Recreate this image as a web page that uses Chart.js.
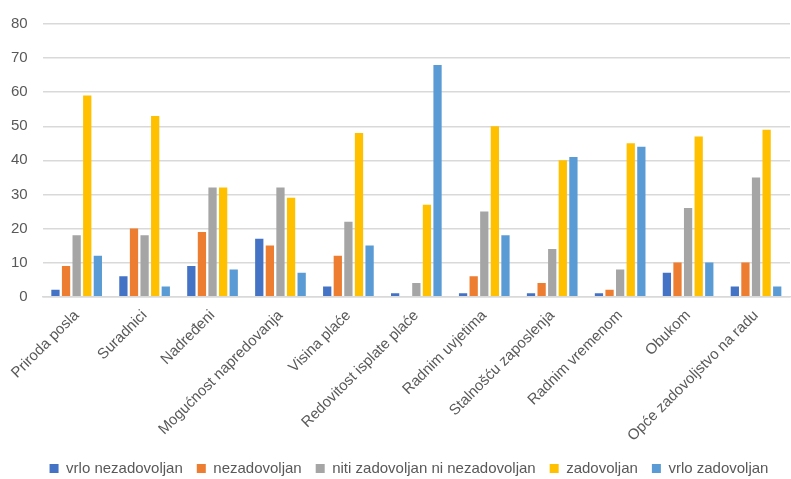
<!DOCTYPE html>
<html>
<head>
<meta charset="utf-8">
<script src="https://cdn.jsdelivr.net/npm/chart.js@4"></script>
<style>
  html, body { margin: 0; padding: 0; background: #fff; }
  #wrap { width: 791px; height: 479px; }
</style>
</head>
<body>
<div id="wrap"><canvas id="chart"></canvas></div>
<script>
var categories = ['Priroda posla', 'Suradnici', 'Nadređeni', 'Mogućnost napredovanja', 'Visina plaće',
	'Redovitost isplate plaće', 'Radnim uvjetima', 'Stalnošću zaposlenja', 'Radnim vremenom', 'Obukom',
	'Opće zadovoljstvo na radu'];
var seriesNames = ['vrlo nezadovoljan', 'nezadovoljan', 'niti zadovoljan ni nezadovoljan', 'zadovoljan', 'vrlo zadovoljan'];
var vrloNezadovoljan = [2, 6, 9, 17, 3, 1, 1, 1, 1, 7, 3];
var nezadovoljan = [9, 20, 19, 15, 12, 0, 6, 4, 2, 10, 10];
var niti = [18, 18, 32, 32, 22, 4, 25, 14, 8, 26, 35];
var zadovoljan = [59, 53, 32, 29, 48, 27, 50, 40, 45, 47, 49];
var vrloZadovoljan = [12, 3, 8, 7, 15, 68, 18, 41, 44, 10, 3];
var yTicks = [0, 10, 20, 30, 40, 50, 60, 70, 80];

var palette = ['#4472C4', '#ED7D31', '#A5A5A5', '#FFC000', '#5B9BD5'];
var values = [vrloNezadovoljan, nezadovoljan, niti, zadovoljan, vrloZadovoljan];

var datasets = [];
for (var i = 0; i < seriesNames.length; i++) {
	datasets.push({
		label: seriesNames[i],
		data: values[i],
		backgroundColor: palette[i],
		borderWidth: 0,
		barPercentage: 0.78,
		categoryPercentage: 0.78
	});
}

// legend in the original sits a bit right of centre
var legendShift = {
	id: 'legendShift',
	afterLayout: function (chart) {
		chart.legend.left += 16;
		chart.legend.right += 16;
	}
};

Chart.defaults.font.family = 'Liberation Sans, Arial, sans-serif';
Chart.defaults.color = '#595959';

new Chart(document.getElementById('chart').getContext('2d'), {
	type: 'bar',
	data: { labels: categories, datasets: datasets },
	plugins: [legendShift],
	options: {
		responsive: true,
		maintainAspectRatio: false,
		animation: false,
		layout: { padding: { left: -4, right: 1, top: 10, bottom: -7 } },
		plugins: {
			tooltip: { enabled: false },
			legend: {
				position: 'bottom',
				labels: {
					boxWidth: 9,
					boxHeight: 9,
					padding: 14,
					font: { size: 15 },
					color: '#595959'
				}
			}
		},
		scales: {
			x: {
				grid: { display: false },
				border: { color: '#d9d9d9', width: 1.5 },
				ticks: {
					minRotation: 45,
					maxRotation: 45,
					autoSkip: false,
					padding: 2,
					font: { size: 15 },
					color: '#595959'
				}
			},
			y: {
				min: 0,
				max: 80,
				afterBuildTicks: function (axis) {
					axis.ticks = yTicks.map(function (v) { return { value: v }; });
				},
				grid: { color: '#d9d9d9', lineWidth: 1.5, drawTicks: false },
				border: { display: false },
				ticks: {
					padding: 15,
					font: { size: 15 },
					color: '#595959'
				}
			}
		}
	}
});
</script>
</body>
</html>
